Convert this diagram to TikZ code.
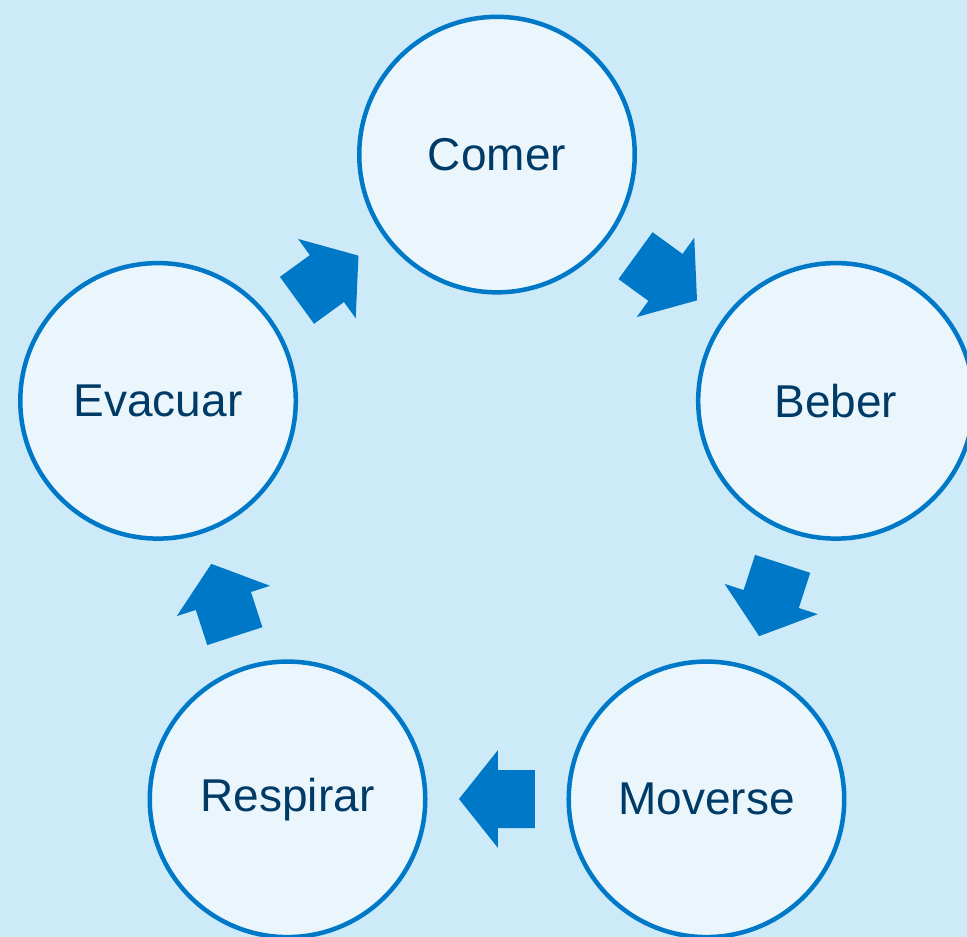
\documentclass[tikz,border=0pt]{standalone}
\usepackage{fontspec}
\setmainfont{Liberation Sans}
\definecolor{bgc}{HTML}{CCEAF7}
\definecolor{fillc}{HTML}{EBF6FC}
\definecolor{linec}{HTML}{0078C8}
\definecolor{textc}{HTML}{003A66}
\tikzset{
  stage/.style={circle, draw=linec, line width=4.5pt, fill=fillc, minimum size=280pt-4.5pt, inner sep=0pt, text=textc, font=\fontsize{46}{50}\selectfont},
  blockarrow/.style={fill=linec, draw=none}
}
\newcommand{\cyclearrow}[2]{%
  \begin{scope}[shift={(#1:288)}, rotate=#1-90]
    \fill[blockarrow] (-38,-29) -- (-1,-29) -- (-1,-49) -- (38,0) -- (-1,49) -- (-1,29) -- (-38,29) -- cycle;
  \end{scope}}
\begin{document}
\begin{tikzpicture}[x=1pt,y=1pt]
  \clip (-497,-426) rectangle (470,511);
  \fill[bgc] (-497,-426) rectangle (470,511);
  \useasboundingbox (-497,-426) rectangle (470,511);
  \node[stage] (comer) at (90:356.4) {Comer};
  \node[stage] (beber) at (18:356.4) {Beber};
  \node[stage] (moverse) at (-54:356.4) {Moverse};
  \node[stage] (respirar) at (-126:356.4) {Respirar};
  \node[stage] (evacuar) at (162:356.4) {Evacuar};
  \cyclearrow{54}{}
  \cyclearrow{-18}{}
  \cyclearrow{-90}{}
  \cyclearrow{-162}{}
  \cyclearrow{126}{}
\end{tikzpicture}
\end{document}
